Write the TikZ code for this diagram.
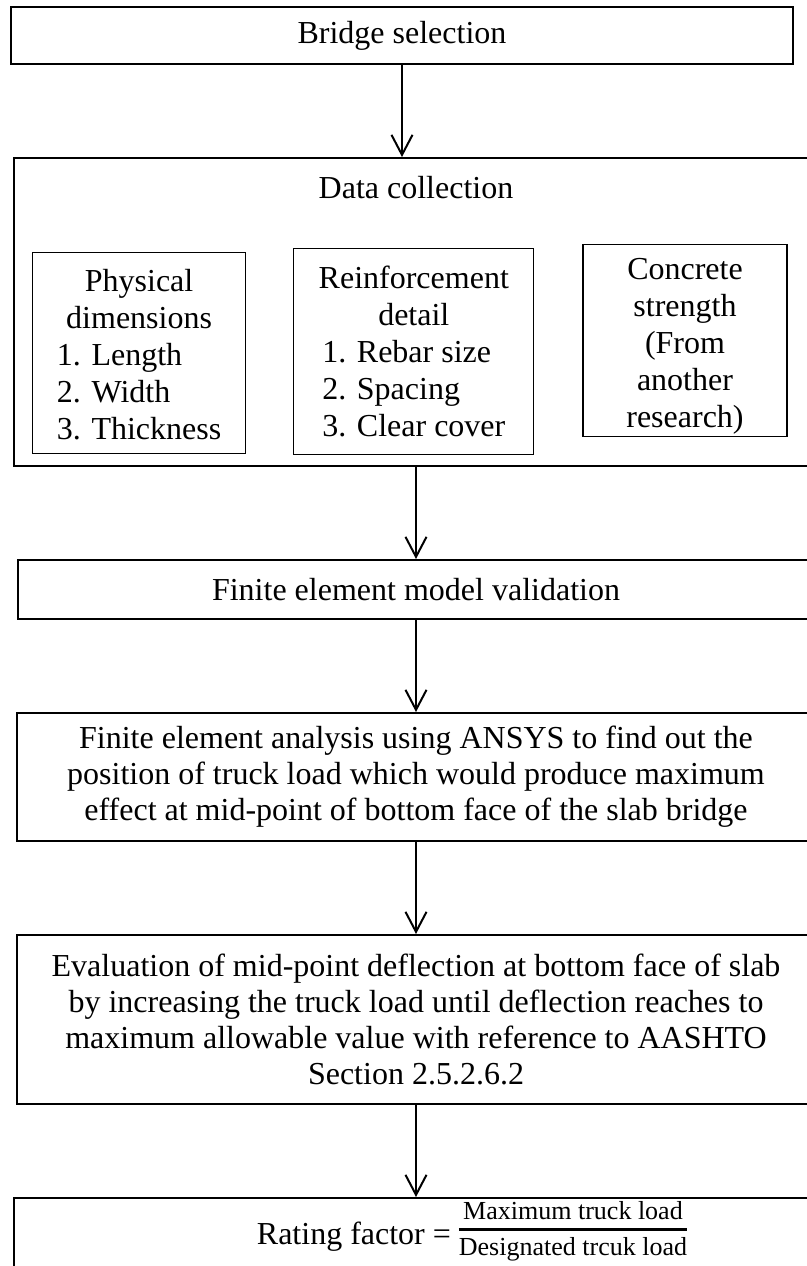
\documentclass[tikz,border=0pt]{standalone}
\usepackage{fontspec}
\setmainfont{Liberation Serif}
\usepackage{tikz}
\usetikzlibrary{arrows.meta, positioning}
\tikzstyle{stagebox} = [rectangle, draw=black, line width=1pt, inner sep=0pt, align=center, font=\fontsize{16}{18}\selectfont]
\tikzstyle{groupbox} = [rectangle, draw=black, line width=1pt, inner sep=0pt]
\tikzstyle{itembox} = [rectangle, draw=black, line width=0.6pt, inner sep=0pt, align=center, font=\fontsize{16}{18.5}\selectfont]
\tikzstyle{arrow} = [line width=1pt, -{Straight Barb[length=10pt,width=10.5pt]}]
\newcommand{\toppad}[1]{\rule{0pt}{#1}}
\newcommand{\ratiofrac}[2]{\raisebox{3.75pt}{\fontsize{13}{15}\selectfont\setlength{\arrayrulewidth}{1.3pt}\begin{tabular}{@{}c@{}}#1\\\hline\rule{0pt}{12.5pt}#2\end{tabular}}}

\begin{document}
\begin{tikzpicture}[node distance=46pt]
\useasboundingbox (0,0) rectangle (403.5pt,-633pt);
\node (bridge) [stagebox, minimum width=391pt, minimum height=28.5pt] at (201pt,-17.75pt) {Bridge selection};
\node (data) [groupbox, below=of bridge, xshift=7pt, minimum width=402pt, minimum height=154pt] {};
\node (datatitle) [font=\fontsize{16}{18}\selectfont] at ([yshift=-15.5pt]data.north) {Data collection};
\node (phys) [itembox, below right=47.5pt and 9.5pt of data.north west, minimum width=106.5pt, minimum height=100.5pt] {\toppad{18pt}Physical\\dimensions\\\begin{tabular}[t]{@{}l@{}}1. Length\\2. Width\\3. Thickness\end{tabular}};
\node (reinf) [itembox, right=23.5pt of phys, yshift=0.75pt, minimum width=120pt, minimum height=103pt] {\toppad{16pt}Reinforcement\\detail\\\begin{tabular}[t]{@{}l@{}}1. Rebar size\\2. Spacing\\3. Clear cover\end{tabular}};
\node (conc) [itembox, right=24pt of reinf, yshift=5.5pt, minimum width=102pt, minimum height=96pt] {\toppad{16pt}Concrete\\strength\\(From\\another\\research)};
\node (fem) [stagebox, below=of data, minimum width=398pt, minimum height=29.5pt] {Finite element model validation};
\node (fea) [stagebox, below=of fem, minimum width=399pt, minimum height=64pt] {Finite element analysis using ANSYS to find out the\\position of truck load which would produce maximum\\effect at mid-point of bottom face of the slab bridge};
\node (eval) [stagebox, below=of fea, minimum width=399pt, minimum height=84.5pt] {Evaluation of mid-point deflection at bottom face of slab\\by increasing the truck load until deflection reaches to\\maximum allowable value with reference to AASHTO\\Section 2.5.2.6.2};
\node (rating) [stagebox, below=of eval, xshift=28pt, minimum width=458pt, minimum height=42pt, text depth=19pt] {Rating factor = \ratiofrac{Maximum truck load}{Designated trcuk load}};

\draw [arrow] (bridge.south) -- (bridge.south |- data.north);
\draw [arrow] (data) -- (fem);
\draw [arrow] (fem) -- (fea);
\draw [arrow] (fea) -- (eval);
\draw [arrow] (eval.south) -- (eval.south |- rating.north);
\end{tikzpicture}
\end{document}
